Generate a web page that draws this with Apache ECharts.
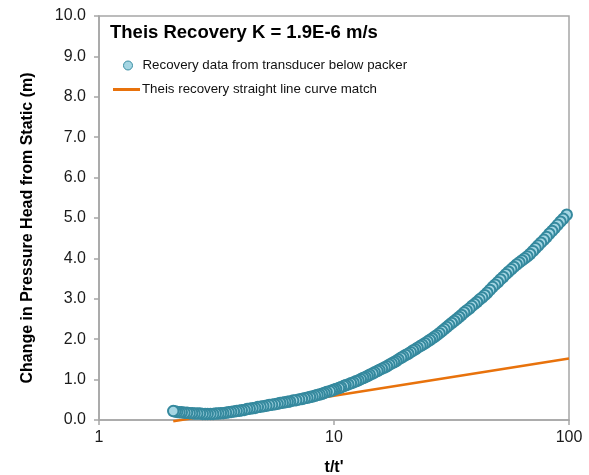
<!DOCTYPE html>
<html>
<head>
<meta charset="utf-8">
<script src="https://cdn.jsdelivr.net/npm/echarts@6/dist/echarts.min.js"></script>
<style>
html,body{margin:0;padding:0;background:#fff;}
#chart{width:589px;height:475px;}
</style>
</head>
<body>
<div id="chart"></div>
<script>
// t/t' values of recovery data
const tRatio = [
97.8,94.5,92.0,89.5,87.0,84.8,82.5,80.3,78.2,76.0,74.0,72.0,70.2,68.3,66.5,64.8,63.1,61.5,59.9,58.3,
56.8,55.3,53.9,52.5,51.1,49.8,48.5,47.3,46.1,44.9,43.8,42.7,41.6,40.6,39.6,38.6,37.7,36.7,35.8,34.9,
34.1,33.3,32.5,31.7,30.9,30.2,29.5,28.8,28.1,27.4,26.8,26.2,25.6,25.0,24.4,23.8,23.3,22.7,22.2,21.7,
21.2,20.7,20.2,19.7,19.3,18.8,18.4,18.0,17.6,17.2,16.8,16.4,16.0,15.6,15.3,14.9,14.6,14.2,13.9,13.6,
13.3,13.0,12.7,12.4,12.1,11.8,11.5,11.2,11.0,10.7,10.5,10.2,10.0,9.8,9.6,9.3,9.1,8.9,8.7,8.5,
8.3,8.1,7.9,7.7,7.5,7.3,7.1,6.9,6.7,6.5,6.35,6.2,6.05,5.9,5.75,5.6,5.45,5.3,5.15,5.0,
4.87,4.74,4.62,4.5,4.38,4.27,4.16,4.05,3.95,3.85,3.75,3.65,3.56,3.47,3.38,3.3,3.22,3.14,3.06,2.98,
2.9,2.83,2.76,2.69,2.62,2.55,2.49,2.43,2.37,2.31,2.25,2.2,2.15,2.11,2.07
];
// change in pressure head (m)
const headChange = [
5.08,4.98,4.91,4.83,4.75,4.68,4.61,4.53,4.46,4.39,4.32,4.25,4.18,4.11,4.05,4.00,3.95,3.90,3.85,3.79,
3.73,3.67,3.61,3.54,3.48,3.41,3.35,3.29,3.22,3.15,3.09,3.03,2.98,2.92,2.87,2.82,2.76,2.71,2.66,2.60,
2.55,2.50,2.45,2.40,2.35,2.30,2.25,2.20,2.15,2.10,2.06,2.02,1.98,1.94,1.90,1.86,1.83,1.79,1.75,1.72,
1.68,1.64,1.61,1.57,1.54,1.50,1.46,1.43,1.40,1.37,1.33,1.30,1.27,1.24,1.21,1.18,1.15,1.12,1.09,1.06,
1.04,1.01,0.98,0.96,0.93,0.91,0.88,0.86,0.84,0.81,0.79,0.77,0.75,0.73,0.71,0.69,0.67,0.65,0.63,0.62,
0.60,0.58,0.57,0.55,0.54,0.52,0.51,0.49,0.48,0.46,0.45,0.44,0.43,0.42,0.40,0.39,0.38,0.37,0.35,0.34,
0.33,0.32,0.30,0.29,0.28,0.27,0.25,0.24,0.23,0.22,0.21,0.20,0.19,0.18,0.17,0.17,0.16,0.16,0.15,0.15,
0.15,0.15,0.15,0.16,0.16,0.16,0.17,0.17,0.18,0.18,0.19,0.19,0.20,0.21,0.22
];
// straight line match endpoints
const fitT = [2.07, 100];
const fitH = [-0.03, 1.52];

const yTicks = [0,1,2,3,4,5,6,7,8,9,10];
const titleText = 'Theis Recovery K = 1.9E-6 m/s';
const dataName = 'Recovery data from transducer below packer';
const fitName = 'Theis recovery straight line curve match';

const FONT = 'Liberation Sans, Arial, sans-serif';
const chart = echarts.init(document.getElementById('chart'), null, {renderer:'canvas'});

chart.setOption({
  animation: false,
  backgroundColor: '#ffffff',
  textStyle: {fontFamily: FONT},
  title: {
    text: titleText, left: 105, top: 18,
    textStyle: {fontFamily: FONT, fontSize: 18.5, fontWeight: 'bold', color: '#000'}
  },
  legend: [
    {
      data: [{name: dataName, icon: 'circle'}],
      left: 118, top: 54, itemWidth: 9, itemHeight: 9,
      itemStyle: {color: '#a5d6e3', borderColor: '#3a8ea3', borderWidth: 1},
      textStyle: {fontFamily: FONT, fontSize: 13.3, color: '#111', padding: [0,0,0,5]},
      selectedMode: false
    },
    {
      data: [{name: fitName, icon: 'rect'}],
      left: 108, top: 78, itemWidth: 27, itemHeight: 3,
      textStyle: {fontFamily: FONT, fontSize: 13.3, color: '#111', padding: [0,0,0,-3]},
      selectedMode: false
    }
  ],
  grid: {
    left: 99, right: 20, top: 16, bottom: 55,
    show: true, borderColor: '#a6a6a6', borderWidth: 1.5,
    containLabel: false, outerBoundsMode: 'none'
  },
  xAxis: {
    type: 'log', logBase: 10, min: 1, max: 100, interval: 1,
    name: "t/t'", nameLocation: 'middle', nameGap: 40,
    nameTextStyle: {fontFamily: FONT, fontSize: 16, fontWeight: 'bold', color: '#000'},
    axisLine: {show: true, lineStyle: {color: '#a6a6a6', width: 1.5}},
    axisTick: {show: true, length: 5, inside: false, lineStyle: {color: '#a6a6a6', width: 1.5}},
    minorTick: {show: false},
    splitLine: {show: false},
    axisLabel: {fontFamily: FONT, fontSize: 16, color: '#1a1a1a', margin: 10}
  },
  yAxis: {
    type: 'value', min: 0, max: 10, interval: 1,
    name: 'Change in Pressure Head from Static (m)', nameLocation: 'middle', nameGap: 63,
    nameTextStyle: {fontFamily: FONT, fontSize: 16, fontWeight: 'bold', color: '#000', padding: [0,20,0,0]},
    axisLine: {show: true, lineStyle: {color: '#a6a6a6', width: 1.5}},
    axisTick: {show: true, length: 5, inside: false, lineStyle: {color: '#a6a6a6', width: 1.5}},
    splitLine: {show: false},
    axisLabel: {fontFamily: FONT, fontSize: 16, color: '#1a1a1a', margin: 13,
      formatter: v => yTicks.indexOf(v) >= 0 ? v.toFixed(1) : ''}
  },
  series: [
    {
      name: fitName, type: 'line', z: 2,
      data: fitT.map((t, i) => [t, fitH[i]]),
      showSymbol: false, symbol: 'none',
      lineStyle: {color: '#e8720c', width: 2.5},
      itemStyle: {color: '#e8720c'},
      clip: false
    },
    {
      name: dataName, type: 'scatter', z: 3,
      data: tRatio.map((t, i) => [t, headChange[i]]),
      symbol: 'circle', symbolSize: 10.5,
      itemStyle: {color: '#a5d6e3', borderColor: '#35899e', borderWidth: 2, opacity: 1},
      clip: true
    }
  ]
});
</script>
</body>
</html>
